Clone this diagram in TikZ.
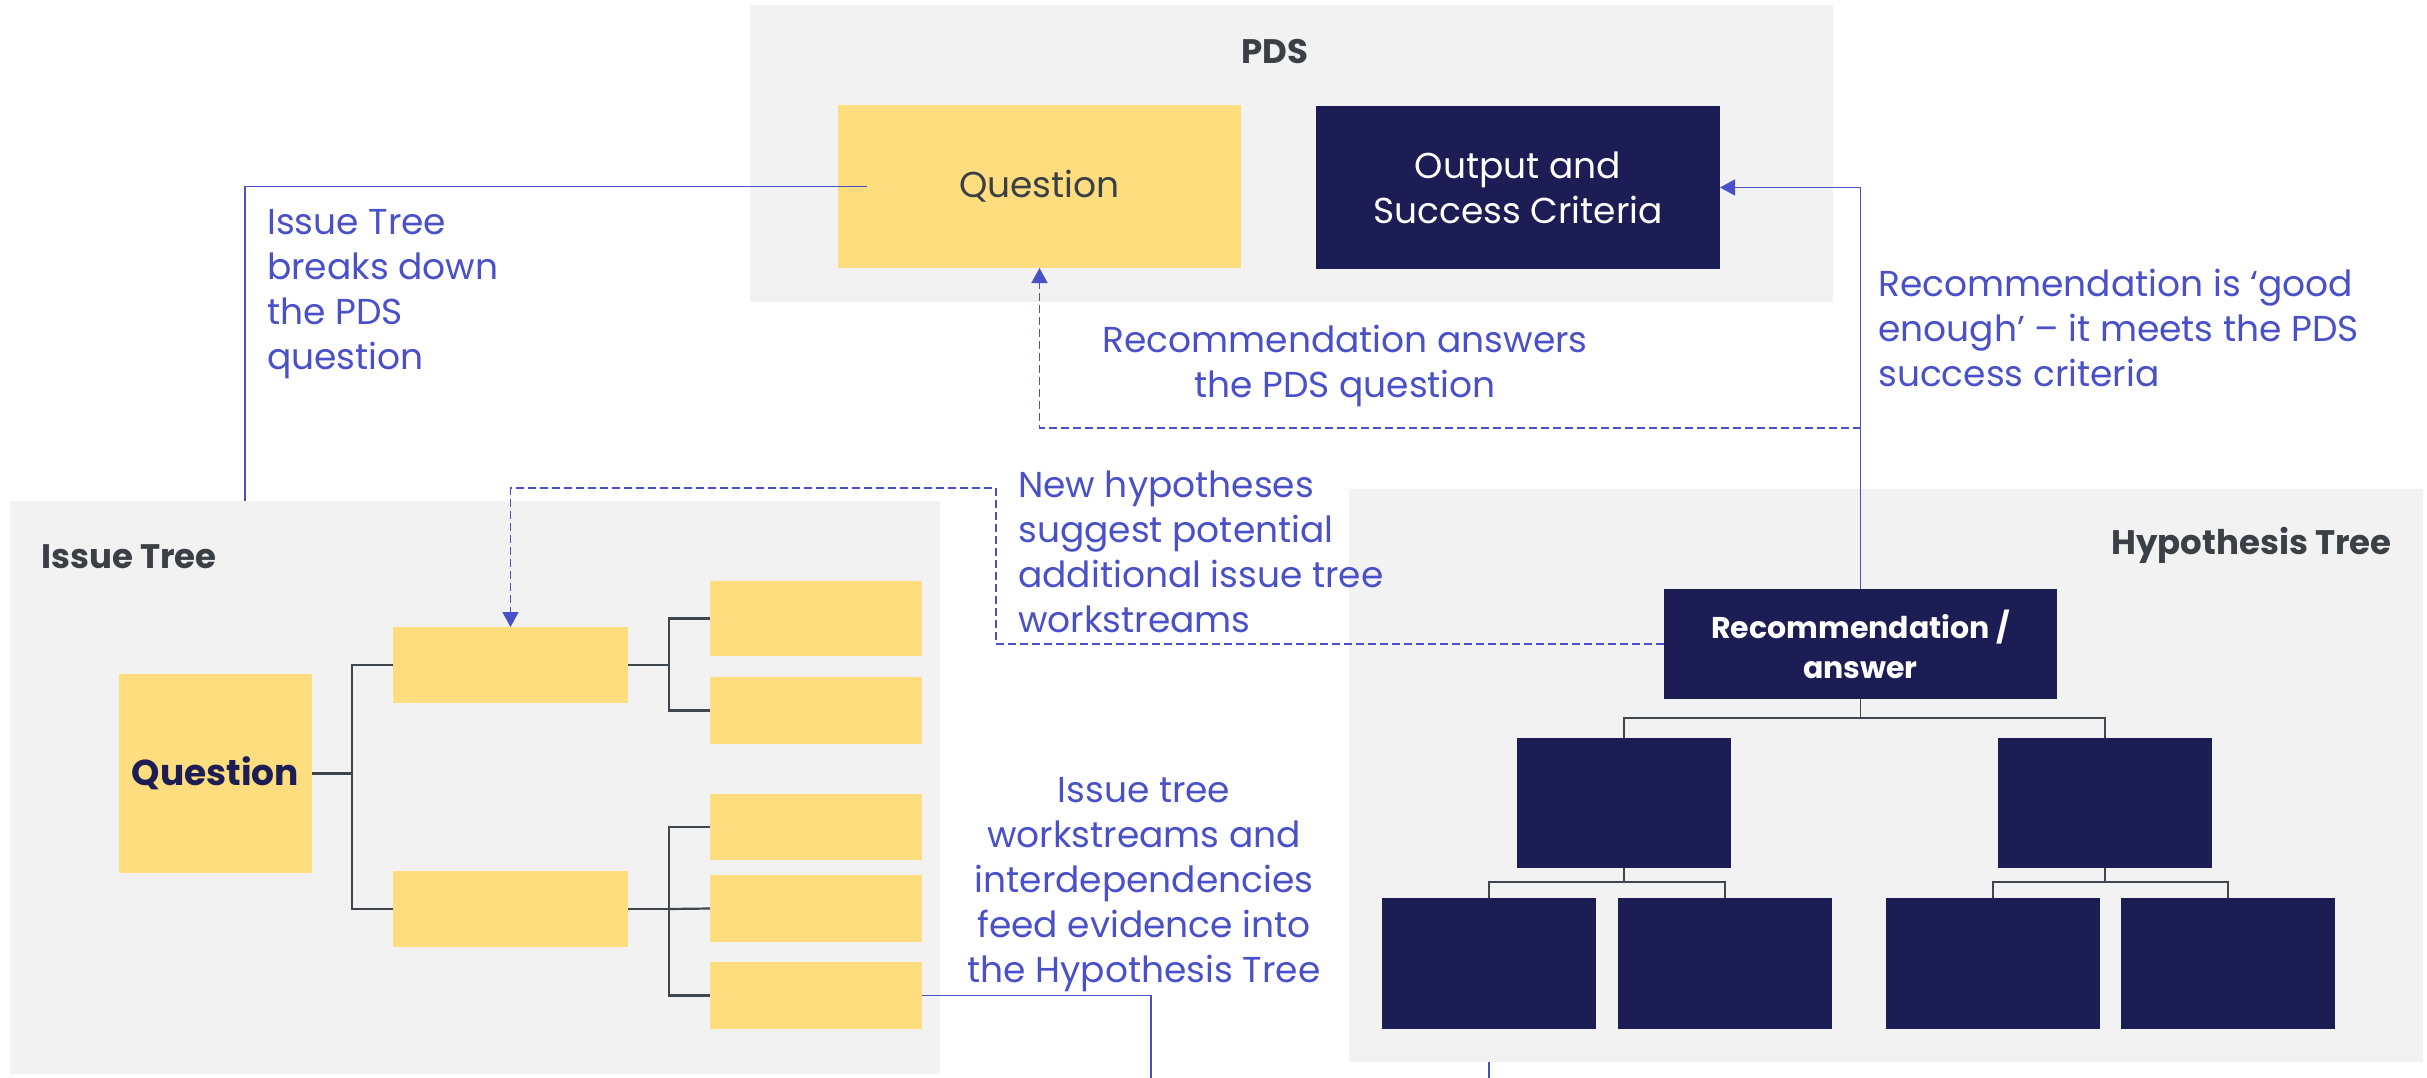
\documentclass[tikz,border=0pt]{standalone}
\usepackage{fontspec}
\setmainfont{Poppins}
\usetikzlibrary{arrows.meta}
\definecolor{bgray}{RGB}{242,242,242}
\definecolor{ylw}{RGB}{253,221,126}
\definecolor{navy}{RGB}{28,29,84}
\definecolor{lblue}{RGB}{74,80,200}
\definecolor{dgray}{RGB}{59,64,70}
\definecolor{cgray}{RGB}{64,70,77}
\begin{document}
\begin{tikzpicture}[x=1pt,y=-1pt,
 panel/.style={fill=bgray,inner sep=0,outer sep=0,draw=none},
 ybox/.style={fill=ylw,inner sep=0,outer sep=0},
 nbox/.style={fill=navy,inner sep=0,outer sep=0},
 tree/.style={draw=cgray,line width=2.2pt},
 htree/.style={draw=cgray,line width=1.5pt},
 bline/.style={draw=lblue,line width=1.6pt},
 dline/.style={draw=lblue,line width=1.6pt,dash pattern=on 8pt off 4pt},
 tip/.style={-{Triangle[length=15pt,width=16pt]}},
 lbl/.style={text=lblue,font=\fontsize{36}{45}\selectfont,inner sep=0},
 ttl/.style={text=dgray,font=\bfseries\fontsize{34}{42}\selectfont,inner sep=0},
 btxt/.style={font=\fontsize{36}{45}\selectfont,align=center},
]
\useasboundingbox (0,0) rectangle (2427,1078);
% panels
\node[panel,minimum width=1083pt,minimum height=297pt] (pdsbg) at (1291.5,153.5) {};
\node[panel,minimum width=930pt,minimum height=573pt] (issbg) at (475,787.5) {};
\node[panel,minimum width=1074pt,minimum height=573pt] (hypbg) at (1886,775.5) {};
% titles
\node[ttl] (tpds) at (1275,52) {PDS};
\node[ttl,anchor=west] (tiss) at (41,557) {Issue Tree};
\node[ttl,anchor=east] (thyp) at (2392,545) {Hypothesis Tree};
% PDS boxes
\node[ybox,minimum width=403pt,minimum height=163pt,text=dgray,btxt] (q) at (1039.5,186.5) {Question};
\node[nbox,minimum width=404pt,minimum height=163pt,text=white,btxt] (out) at (1518,187.5) {Output and\\Success Criteria};
% issue tree
\node[ybox,minimum width=193pt,minimum height=199pt,text=navy,btxt,font=\bfseries\fontsize{36}{45}\selectfont] (iq) at (215.5,773.5) {Question};
\node[ybox,minimum width=235pt,minimum height=76pt] (m1) at (510.5,665) {};
\node[ybox,minimum width=235pt,minimum height=76pt] (m2) at (510.5,909) {};
\node[ybox,minimum width=212pt,minimum height=75pt] (r1) at (816,618.5) {};
\node[ybox,minimum width=212pt,minimum height=67pt] (r2) at (816,710.5) {};
\node[ybox,minimum width=212pt,minimum height=66pt] (r3) at (816,827) {};
\node[ybox,minimum width=212pt,minimum height=67pt] (r4) at (816,908.5) {};
\node[ybox,minimum width=212pt,minimum height=67pt] (r5) at (816,995.5) {};
% hypothesis tree
\node[nbox,minimum width=393pt,minimum height=110pt,text=white,align=center,font=\bfseries\fontsize{30}{40}\selectfont] (rec) at (1860.5,644) {Recommendation /\\answer};
\node[nbox,minimum width=214pt,minimum height=130pt] (h1) at (1624,803) {};
\node[nbox,minimum width=214pt,minimum height=130pt] (h2) at (2105,803) {};
\node[nbox,minimum width=214pt,minimum height=131pt] (h3) at (1489,963.5) {};
\node[nbox,minimum width=214pt,minimum height=131pt] (h4) at (1725,963.5) {};
\node[nbox,minimum width=214pt,minimum height=131pt] (h5) at (1993,963.5) {};
\node[nbox,minimum width=214pt,minimum height=131pt] (h6) at (2228,963.5) {};
% tree connectors
\draw[tree] (iq.east) -- (352,773.5);
\draw[tree] (m1.west) -| (352,773.5) |- (m2.west);
\draw[tree] (m1.east) -| (669,665) |- (r1.west);
\draw[tree] (669,665) |- (r2.west);
\draw[tree] (m2.east) -| (669,909) |- (r3.west);
\draw[tree] (669,909) |- (r5.west);
\draw[tree] (669,909) -- (r4.west);
\draw[htree] (rec.south) -- ++(0,19) coordinate (k0);
\draw[htree] (h1.north) |- (k0) -| (h2.north);
\draw[htree] (h1.south) -- ++(0,14) coordinate (k1);
\draw[htree] (h3.north) |- (k1) -| (h4.north);
\draw[htree] (h2.south) -- ++(0,14) coordinate (k2);
\draw[htree] (h5.north) |- (k2) -| (h6.north);
% labels
\node[lbl,anchor=west,align=left] (l1) at (267,294.5) {Issue Tree\\breaks down\\the PDS\\question};
\node[lbl,align=center] (l2) at (1345,365.5) {Recommendation answers\\the PDS question};
\node[lbl,anchor=west,align=left] (l3) at (1878,328) {Recommendation is ‘good\\enough’ – it meets the PDS\\success criteria};
\node[lbl,anchor=west,align=left] (l4) at (1018,552) {New hypotheses\\suggest potential\\additional issue tree\\workstreams};
\node[lbl,align=center] (l5) at (1144,884.5) {Issue tree\\workstreams and\\interdependencies\\feed evidence into\\the Hypothesis Tree};
% blue connectors
\coordinate (a1) at (245,501);
\draw[bline] (a1) |- ([xshift=29pt]q.west);
\draw[bline,tip] (rec.north) |- (out.east);
\coordinate (d1) at (1860.5,428);
\draw[dline,tip] (d1) -| (q.south);
\draw[dline,tip] (rec.west) -| (996,488) -| (m1.north);
\coordinate (e1) at (1151,1078);
\draw[bline] (r5.east) -| (e1);
\coordinate (f1) at (1489,1062);
\coordinate (f2) at (1489,1078);
\draw[bline] (f1) -- (f2);
\end{tikzpicture}
\end{document}
